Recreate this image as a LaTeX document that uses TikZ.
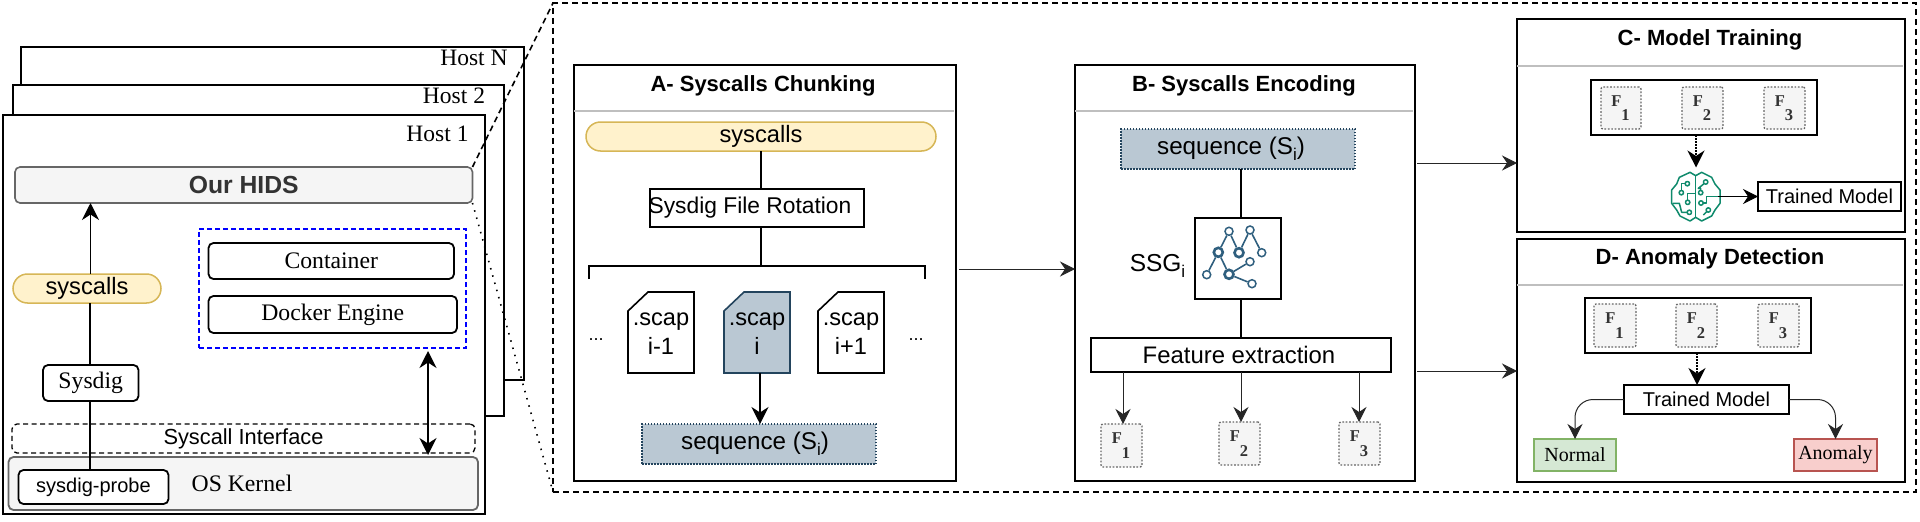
\documentclass[tikz,border=0pt]{standalone}
\usepackage{fontspec}
\setmainfont{Liberation Serif}
\setsansfont{Liberation Sans}
\usetikzlibrary{arrows.meta}
\definecolor{yfill}{HTML}{FFF2CC}\definecolor{ydraw}{HTML}{D6B656}
\definecolor{gfill}{HTML}{F5F5F5}\definecolor{gdraw}{HTML}{666666}
\definecolor{bfill}{HTML}{BAC8D3}\definecolor{bdraw}{HTML}{23445D}
\definecolor{nfill}{HTML}{D5E8D4}\definecolor{ndraw}{HTML}{82B366}
\definecolor{afill}{HTML}{F8CECC}\definecolor{adraw}{HTML}{B85450}
\definecolor{brainc}{HTML}{0F8A6C}\definecolor{graphc}{HTML}{2F5F7E}
\definecolor{darktxt}{HTML}{333333}
\newcommand\fsz[1]{\fontsize{#1}{#1}\selectfont}
\newcommand\subi{\raisebox{-.25em}{\fontsize{17}{17}\selectfont i}}
\newcommand\rbox[7][]{%
  \pgfmathsetmacro\bxw{#5-#3}\pgfmathsetmacro\bxh{#6-#4}%
  \node[rectangle,inner sep=0pt,outer sep=0pt,minimum width=\bxw pt,minimum height=\bxh pt,#1] (#2) at ({(#3+#5)/2},{(#4+#6)/2}) {#7};}
\newcommand\feat[6]{%
  \rbox[featbox]{#1}{#2}{#3}{#4}{#5}{}%
  \node[feattxt] (#1f) at ([xshift=-4.5pt,yshift=7pt]#1.center) {F};%
  \node[feattxt] (#1n) at ([xshift=4.5pt,yshift=-7.5pt]#1.center) {#6};}
\newcommand\scapfile[7]{%
  \rbox{#1}{#2}{#3}{#4}{#5}{}%
  \draw[#7] ([yshift=-19pt]#1.north west) -- ([xshift=20pt]#1.north west) -- (#1.north east) -- (#1.south east) -- (#1.south west) -- cycle;%
  \node[lab sans,font=\sffamily\fsz{23.6},align=center,text depth=0pt] (#1t) at ([yshift=-1pt]#1.center) {#6};}
\tikzset{
  hostbox/.style={draw=black,fill=white,line width=2pt},
  panel/.style={draw=black,fill=white,line width=2pt},
  lab serif/.style={font=\rmfamily\fsz{23.7},inner sep=0pt,outer sep=0pt},
  lab sans/.style={font=\sffamily\fsz{23.7},inner sep=0pt,outer sep=0pt},
  title/.style={font=\sffamily\bfseries\fsz{22},inner sep=0pt},
  gbox/.style={draw=gdraw,fill=gfill,line width=1.6pt,rounded corners=5pt},
  wbox/.style={draw=black,fill=white,line width=1.8pt},
  rwbox/.style={wbox,rounded corners=5pt},
  pill/.style={draw=ydraw,fill=yfill,line width=1.5pt,rounded corners=14.5pt},
  seqbox/.style={draw=bdraw,fill=bfill,line width=1.4pt,dash pattern=on 1.5pt off 1.5pt},
  featbox/.style={draw=gdraw,fill=gfill,line width=1.3pt,dash pattern=on 1.7pt off 1.7pt,rounded corners=2pt},
  feattxt/.style={font=\rmfamily\bfseries\fsz{16.5},text=darktxt,inner sep=0pt},
  sepline/.style={draw=black!25,line width=1.8pt},
  link/.style={draw=black,line width=1.8pt},
  thin link/.style={draw=black!85,line width=1pt},
  head/.style={-{Stealth[length=17pt,width=17pt,inset=5.5pt]}},
  both heads/.style={{Stealth[length=17pt,width=17pt,inset=5.5pt]}-{Stealth[length=17pt,width=17pt,inset=5.5pt]}},
  small head/.style={-{Stealth[length=15pt,width=15pt,inset=5pt]}},
  gnode/.style={circle,draw=graphc,fill=white,line width=1.5pt,inner sep=0pt,minimum size=8pt},
  gnodeh/.style={gnode,line width=2.6pt,minimum size=9pt},
  gedge/.style={draw=graphc,line width=1.6pt},
  brainline/.style={draw=brainc,line width=1.5pt,line join=round},
  bigdash/.style={draw=black,line width=1.6pt,dash pattern=on 6pt off 4pt},
}
\begin{document}
\begin{tikzpicture}[x=1pt,y=-1pt]
\useasboundingbox (0,0) rectangle (1920,522);
% ---------- outer dashed frame
\rbox[bigdash]{frame}{553}{3}{1916}{492}{}
% ---------- hosts
\rbox[hostbox]{hostN}{21}{47}{524}{380}{}
\rbox[hostbox]{host2}{13}{85}{504}{416}{}
\rbox[hostbox]{host1}{3}{115}{485}{514}{}
\node[lab serif,font=\rmfamily\fsz{23.5}] (tN) at (474,58) {Host N};
\node[lab serif,font=\rmfamily\fsz{23.5}] (t2) at (454,96) {Host 2};
\node[lab serif,font=\rmfamily\fsz{23.5}] (t1) at (437.5,134) {Host 1};
\rbox[gbox,font=\sffamily\bfseries\fsz{24.7},text=darktxt]{hids}{15}{167}{472.5}{203}{Our HIDS}
\rbox[bigdash,dash pattern=on 5pt off 3pt,draw=blue,line width=1.5pt]{blue}{199}{229}{466}{348}{}
\rbox[rwbox,lab serif]{cont}{208.5}{243}{454}{279}{Container}
\rbox[rwbox,lab serif]{dock}{208.5}{296}{457}{333}{Docker Engine}
\rbox[pill,lab sans]{sys1}{13}{274}{161}{303}{syscalls}
\rbox[draw=black,line width=1.3pt,dash pattern=on 5pt off 3.5pt,rounded corners=5pt,font=\sffamily\fsz{21.8}]{iface}{12}{424}{475}{453}{Syscall Interface}
\rbox[gbox,line width=1.8pt]{kern}{8.5}{457}{478}{510}{}
\node[lab serif] (kernt) at (242,483) {OS Kernel};
\rbox[rwbox,font=\sffamily\fsz{20}]{probe}{18.5}{470}{168.5}{504}{sysdig-probe}
\rbox[rwbox,lab serif]{sdg}{43}{365}{138.5}{401}{Sysdig}
\coordinate (xa) at (90.5,0);
\coordinate (xb) at (89.7,0);
\coordinate (xc) at (428,0);
\draw[link,head] (sys1.north -| xa) -- (hids.south -| xa);
\draw[link] (sdg.north -| xb) -- (sys1.south -| xb);
\draw[link] (probe.north -| xb) -- (sdg.south -| xb);
\draw[link,both heads] ([yshift=-3pt]blue.south -| xc) -- ([yshift=2pt]kern.north -| xc);
\draw[bigdash] (hids.north east) -- (frame.north west);
\draw[draw=black,line width=1.6pt,dash pattern=on 1.5pt off 6pt] (hids.south east) -- (frame.south west);
% ---------- panel A
\rbox[panel]{pa}{574}{65}{956}{481}{}
\node[title] (pat) at (763,85.5) {A- Syscalls Chunking};
\draw[sepline] (574,111) -- (954,111);
\rbox[pill,lab sans]{sys2}{586}{122}{936}{151}{syscalls}
\rbox[wbox,font=\sffamily\fsz{22.8}]{rot}{650}{189}{864}{227}{\hspace*{-14pt}Sysdig File Rotation}
\coordinate (xd) at (761,0);
\coordinate (brkl) at (589,279);
\coordinate (brkr) at (925,279);
\coordinate (brkm) at (761,266);
\draw[link] (sys2.south -| xd) -- (rot.north -| xd);
\draw[link] (rot.south -| xd) -- (brkm);
\draw[link] (brkl) -- (brkl |- brkm) -- (brkr |- brkm) -- (brkr);
\scapfile{f1}{628}{292}{694}{373}{.scap\\[5pt]i-1}{draw=black,fill=white,line width=1.6pt}
\scapfile{f2}{724}{292}{790}{373}{.scap\\[5pt]i}{draw=bdraw,fill=bfill,line width=1.6pt}
\scapfile{f3}{818}{292}{884}{373}{.scap\\[5pt]i+1}{draw=black,fill=white,line width=1.6pt}
\node[font=\sffamily\fsz{18},inner sep=0pt,anchor=base] (d1) at (596,340) {...};
\node[font=\sffamily\fsz{18},inner sep=0pt,anchor=base] (d2) at (916,340) {...};
\rbox[seqbox,font=\sffamily\fsz{24.2}]{seq1}{642}{424}{876}{464}{\hspace*{-8pt}sequence (S\subi)}
\coordinate (xe) at (760,0);
\draw[link,head] (f2.south -| xe) -- (seq1.north -| xe);
% ---------- panel B
\rbox[panel]{pb}{1075}{65}{1415}{481}{}
\node[title] (pbt) at (1244,85.5) {B- Syscalls Encoding};
\draw[sepline] (1075,111) -- (1413,111);
\rbox[seqbox,font=\sffamily\fsz{24.2}]{seq2}{1121}{129}{1355}{169}{\hspace*{-14pt}sequence (S\subi)}
\rbox[wbox]{ssg}{1195}{218}{1281}{299}{}
\node[lab sans,font=\sffamily\fsz{24.5}] (ssgt) at (1157.5,266) {SSG\subi};
\rbox[wbox,font=\sffamily\fsz{23.9}]{fe}{1091}{338}{1391}{372}{\hspace*{-4pt}Feature extraction}
\coordinate (xf) at (1241,0);
\draw[link] (seq2.south -| xf) -- (ssg.north -| xf);
\draw[link] (ssg.south -| xf) -- (fe.north -| xf);
% graph icon
\node[gnode] (ga) at (1229,231.3) {};
\node[gnode] (gb) at (1250,230) {};
\node[gnodeh] (gc) at (1218.3,252.3) {};
\node[gnodeh] (gd) at (1239,252.7) {};
\node[gnode] (ge) at (1261.7,252.7) {};
\node[gnode] (gf) at (1250,261.7) {};
\node[gnodeh] (gg) at (1229,274.3) {};
\node[gnode] (gh) at (1206.7,274.7) {};
\node[gnode] (gi) at (1252,283.7) {};
\draw[gedge] (gh) -- (gc);
\draw[gedge] (gc) -- (ga);
\draw[gedge] (ga) -- (gd);
\draw[gedge] (gd) -- (gb);
\draw[gedge] (gb) -- (ge);
\draw[gedge] (gc) -- (gg);
\draw[gedge] (gg) -- (gf);
\draw[gedge] (gg) -- (gi);
% features of B
\feat{bf1}{1101}{424}{1142}{467}{1}
\feat{bf2}{1219}{422}{1260}{465}{2}
\feat{bf3}{1339}{422}{1380}{465}{3}
\coordinate (xg) at (1123,0);
\coordinate (xh) at (1359,0);
\draw[thin link,small head] (fe.south -| xg) -- (bf1.north -| xg);
\draw[thin link,small head] (fe.south -| xf) -- (bf2.north -| xf);
\draw[thin link,small head] (fe.south -| xh) -- (bf3.north -| xh);
% ---------- panel C
\rbox[panel]{pc}{1517}{19}{1905}{232}{}
\node[title] (pct) at (1710,39.5) {C- Model Training};
\draw[sepline] (1517,66) -- (1903,66);
\rbox[wbox,line width=2pt]{cg}{1591}{80}{1817}{135}{}
\feat{cf1}{1601}{87}{1641}{129}{1}
\feat{cf2}{1682}{87}{1723}{129}{2}
\feat{cf3}{1764}{87}{1805}{129}{3}
\rbox[wbox,font=\sffamily\fsz{20}]{tm1}{1758}{182}{1901}{211}{Trained Model}
\node[inner sep=0pt,outer sep=0pt,minimum width=49pt,minimum height=49pt] (brain) at (1696,196.5) {};
\begin{scope}[shift={(1640,160)},x=.3333pt,y=-.3333pt]
\draw[brainline] (167,47) -- (150,37) -- (118,52) -- (110,72) -- (95,90) -- (95,130) -- (110,150) -- (120,168) -- (150,183) -- (167,172) -- (185,183) -- (215,168) -- (225,150) -- (240,130) -- (240,90) -- (225,72) -- (215,52) -- (185,37) -- cycle;
\draw[brainline] (167,47) -- (167,172);
\draw[brainline] (137,71) -- (124,71) -- (124,93);
\draw[brainline] (143,122) -- (143,100) -- (167,100);
\draw[brainline] (143,157) -- (125,157) -- (118,130) -- (98,130);
\draw[brainline] (192,71) -- (175,85) -- (182,85) -- (182,93);
\draw[brainline] (188,129) -- (200,129) -- (200,110) -- (238,110);
\draw[brainline] (200,155) -- (190,165);
\foreach \cx/\cy in {142/71,124/98,143/127,148/157,197/66,182/98,183/129,205/150}
  \draw[brainline] (\cx,\cy) circle[radius=2.2pt];
\end{scope}
\draw[thin link,draw=black,small head] ([xshift=-3pt]brain.east) -- (tm1.west |- brain);
\draw[link,dash pattern=on 1.5pt off 1.5pt,head] (brain |- cg.south) -- ([yshift=4.5pt]brain.north);
% ---------- panel D
\rbox[panel]{pd}{1517}{239}{1905}{482}{}
\node[title] (pdt) at (1710,258.5) {D- Anomaly Detection};
\draw[sepline] (1517,285) -- (1903,285);
\rbox[wbox,line width=2pt]{dg}{1585}{298}{1811}{353}{}
\feat{df1}{1594}{304}{1636}{347}{1}
\feat{df2}{1676}{304}{1717}{347}{2}
\feat{df3}{1758}{304}{1799}{347}{3}
\rbox[wbox,font=\sffamily\fsz{20}]{tm2}{1624}{385}{1789}{414}{Trained Model}
\rbox[draw=ndraw,fill=nfill,line width=1.8pt,font=\rmfamily\fsz{20}]{norm}{1534}{439}{1616}{471}{Normal}
\rbox[draw=adraw,fill=afill,line width=1.8pt,font=\rmfamily\fsz{20}]{anom}{1794}{439}{1877}{471}{Anomaly}
\coordinate (xi) at (1697,0);
\draw[link,dash pattern=on 1.5pt off 1.5pt,head] (dg.south -| xi) -- (tm2.north -| xi);
\draw[thin link,small head,rounded corners=18pt] (tm2.west) -- (norm.north |- tm2.west) -- (norm.north);
\draw[thin link,small head,rounded corners=18pt] (tm2.east) -- (anom.north |- tm2.east) -- (anom.north);
% ---------- between panels
\coordinate (ya) at (0,269);
\coordinate (yb) at (0,163);
\coordinate (yc) at (0,371);
\draw[thin link,small head] ([xshift=3pt]pa.east |- ya) -- (pb.west |- ya);
\draw[thin link,small head] ([xshift=2pt]pb.east |- yb) -- (pc.west |- yb);
\draw[thin link,small head] ([xshift=2pt]pb.east |- yc) -- (pd.west |- yc);
\end{tikzpicture}
\end{document}
